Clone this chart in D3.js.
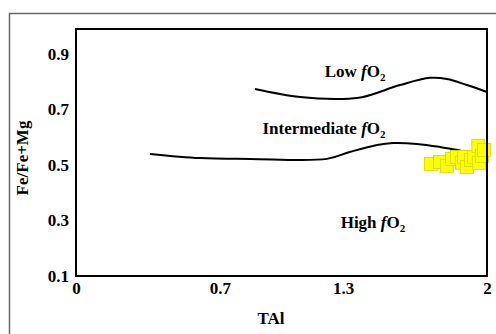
<!DOCTYPE html>
<html>
<head>
<meta charset="utf-8">
<script src="https://cdn.jsdelivr.net/npm/d3@7"></script>
<style>
  body { margin: 0; background: #fff; }
  text { font-family: "Liberation Serif", "Times New Roman", serif; font-weight: bold; font-size: 17px; fill: #000; }
</style>
</head>
<body>
<svg id="chart" width="496" height="334"></svg>
<script>
// datos
var xTicks = [0, 0.7, 1.3, 2];
var yTicks = [0.1, 0.3, 0.5, 0.7, 0.9];

// curva superior (Low fO2)
var lowX = [0.871, 1.09, 1.299, 1.397, 1.577, 1.723, 1.805, 1.903, 2.0];
var lowY = [0.774, 0.745, 0.738, 0.745, 0.788, 0.814, 0.81, 0.788, 0.763];

// curva intermedia
var midX = [0.36, 0.603, 0.847, 1.221, 1.333, 1.465, 1.543, 1.659, 1.771, 1.883, 2.0];
var midY = [0.54, 0.525, 0.522, 0.522, 0.547, 0.572, 0.579, 0.576, 0.565, 0.55, 0.536];

// muestras (cuadrados amarillos)
var sampleX = [1.727, 1.771, 1.805, 1.830, 1.854, 1.878, 1.888, 1.903, 1.922, 1.937, 1.958, 1.962, 1.976, 1.985];
var sampleY = [0.504, 0.511, 0.497, 0.522, 0.529, 0.508, 0.529, 0.493, 0.518, 0.529, 0.569, 0.508, 0.533, 0.554];

// etiquetas de los campos
var fieldNames = ["Low ", "Intermediate ", "High "];
var fieldX = [1.358, 1.207, 1.445];
var fieldY = [0.817, 0.612, 0.273];

var svg = d3.select("#chart");
var pLeft = 76, pRight = 487, pTop = 29, pBottom = 276;   // caja del grafico

var x = d3.scaleLinear().domain([0, 2]).range([pLeft, pRight]);
var y = d3.scaleLinear().domain([0.1, 0.99]).range([pBottom, pTop]);

// marco exterior gris
svg.append("rect")
  .attr("x", 9.5).attr("y", 13.5)
  .attr("width", 520).attr("height", 340)
  .attr("fill", "none")
  .attr("stroke", "#666")
  .attr("stroke-width", 1.5);

var line = d3.line()
  .x(function(d) { return x(d[0]); })
  .y(function(d) { return y(d[1]); })
  .curve(d3.curveCatmullRom);

svg.append("path")
  .datum(d3.zip(lowX, lowY))
  .attr("d", line)
  .attr("fill", "none").attr("stroke", "#000").attr("stroke-width", 2);

svg.append("path")
  .datum(d3.zip(midX, midY))
  .attr("d", line)
  .attr("fill", "none").attr("stroke", "#000").attr("stroke-width", 2);

// cuadrados
var s = 13;
svg.append("g").selectAll("rect")
  .data(d3.zip(sampleX, sampleY))
  .enter().append("rect")
  .attr("x", function(d) { return x(d[0]) - s / 2; })
  .attr("y", function(d) { return y(d[1]) - s / 2; })
  .attr("width", s).attr("height", s)
  .attr("fill", "#ffff00")
  .attr("stroke", "#d6d600")
  .attr("stroke-width", 0.8);

// caja del grafico
svg.append("rect")
  .attr("x", pLeft).attr("y", pTop)
  .attr("width", pRight - pLeft).attr("height", pBottom - pTop)
  .attr("fill", "none")
  .attr("stroke", "#000")
  .attr("stroke-width", 2);

// ejes sin marcas
var xAxis = d3.axisBottom(x).tickValues(xTicks).tickSize(0).tickPadding(6)
  .tickFormat(function(d) { return String(d); });
var gx = svg.append("g").attr("transform", "translate(0," + pBottom + ")").call(xAxis);

var yAxis = d3.axisLeft(y).tickValues(yTicks).tickSize(0).tickPadding(7)
  .tickFormat(d3.format(".1f"));
var gy = svg.append("g").attr("transform", "translate(" + pLeft + ",0)").call(yAxis);

[gx, gy].forEach(function(g) {
  g.select(".domain").remove();
  g.selectAll("text")
    .attr("fill", "#000")
    .style("font-family", "'Liberation Serif', serif")
    .style("font-weight", "bold")
    .style("font-size", "17px");
});

// titulos
svg.append("text")
  .attr("x", 271).attr("y", 324)
  .attr("text-anchor", "middle")
  .text("TAl");

svg.append("text")
  .attr("transform", "translate(28,158) rotate(-90)")
  .attr("text-anchor", "middle")
  .text("Fe/Fe+Mg");

// etiquetas de campos con fO2
fieldNames.forEach(function(name, i) {
  var t = svg.append("text")
    .attr("x", x(fieldX[i])).attr("y", y(fieldY[i]))
    .attr("text-anchor", "middle");
  t.append("tspan").text(name);
  t.append("tspan").style("font-style", "italic").text("f");
  t.append("tspan").text("O");
  t.append("tspan").attr("dy", 4).style("font-size", "11px").text("2");
});
</script>
</body>
</html>
